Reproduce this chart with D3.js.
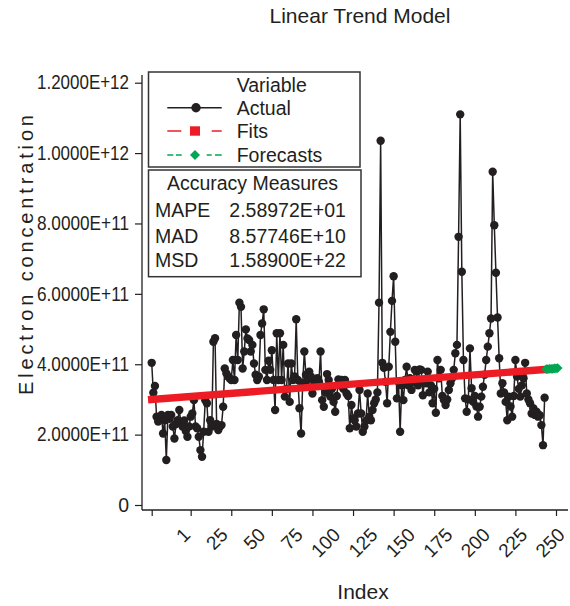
<!DOCTYPE html>
<html>
<head>
<meta charset="utf-8">
<script src="https://cdn.jsdelivr.net/npm/d3@7"></script>
<style>
  body { margin: 0; background: #fff; }
  text { font-family: "Liberation Sans", Arial, sans-serif; fill: #231f20; }
</style>
</head>
<body>
<div id="chart"></div>
<script>
// values are in units of 1E+11
const unit = 1e11;
const actualValues = [
  4.04, 3.19, 3.38, 2.51, 2.37, 2.45, 2.56, 2.03, 2.41, 1.28,
  2.56, 2.45, 2.56, 2.23, 1.89, 2.30, 2.41, 2.70, 2.32, 2.23,
  2.40, 2.10, 1.94, 2.23, 2.51, 2.60, 2.98, 2.23, 2.18, 1.94,
  1.56, 1.37, 2.08, 2.98, 2.89, 2.08, 2.41, 2.23, 4.64, 4.74,
  2.30, 2.13, 2.23, 2.27, 2.79, 3.88, 3.74, 3.65, 3.60, 3.55,
  4.12, 3.55, 4.83, 4.12, 5.75, 5.63, 3.88, 4.36, 4.99, 4.73,
  4.69, 4.36, 4.55, 4.02, 3.70, 3.55, 3.65, 4.83, 5.16, 5.56,
  3.84, 3.55, 4.10, 3.84, 4.40, 3.55, 2.70, 4.88, 3.55, 4.88,
  3.55, 4.55, 3.08, 3.30, 4.02, 2.93, 4.02, 3.55, 3.65, 5.28,
  3.55, 2.75, 2.03, 3.46, 4.36, 3.70, 3.55, 3.79, 3.65, 3.17,
  3.40, 3.55, 3.60, 3.50, 4.36, 2.98, 2.79, 3.20, 3.72, 3.55,
  3.08, 3.30, 2.93, 2.65, 3.10, 3.57, 3.40, 3.55, 3.30, 3.55,
  3.17, 3.10, 2.18, 2.84, 2.46, 2.41, 2.23, 2.60, 3.27, 2.60,
  2.08, 2.23, 2.40, 3.17, 2.51, 2.41, 2.70, 2.89, 3.00, 3.20,
  5.75, 10.35, 4.04, 3.90, 3.50, 2.89, 3.93, 4.92, 5.80, 6.50,
  4.64, 3.03, 3.50, 2.08, 3.40, 2.98, 3.55, 3.93, 3.40, 3.60,
  3.27, 3.50, 3.84, 3.79, 3.40, 3.85, 3.84, 3.12, 3.50, 3.46,
  3.79, 3.20, 3.40, 2.89, 3.30, 2.62, 4.12, 3.60, 3.84, 3.10,
  2.98, 2.84, 3.00, 3.27, 3.46, 3.60, 3.84, 4.31, 4.55, 7.62,
  11.10, 6.63, 4.12, 3.03, 2.65, 3.00, 4.45, 3.32, 2.93, 3.10,
  2.80, 2.51, 2.79, 3.08, 3.36, 3.70, 4.12, 4.50, 4.88, 5.30,
  9.47, 7.95, 6.60, 5.33, 4.17, 3.17, 3.46, 3.20, 2.93, 2.41,
  3.08, 2.80, 2.51, 3.10, 4.12, 3.65, 3.30, 3.08, 3.40, 3.60,
  4.04, 3.17, 3.00, 2.89, 2.60, 2.75, 2.56, 2.65, 2.51, 2.55,
  2.27, 1.70, 3.05
];
// linear trend fits, read at the first and last index
const fitIndex = [1, 243];
const fitValues = [3.00, 3.85];
const forecastValues = [3.86, 3.86, 3.87, 3.87, 3.87, 3.88, 3.88, 3.89];

const yTicks = [0, 2e11, 4e11, 6e11, 8e11, 1e12, 1.2e12];
const xTicks = [1, 25, 50, 75, 100, 125, 150, 175, 200, 225, 250];
const legendNames = ["Actual", "Fits", "Forecasts"];
const measureNames = ["MAPE", "MAD", "MSD"];
const measureValues = ["2.58972E+01", "8.57746E+10", "1.58900E+22"];

const ink = "#231f20", red = "#ed1c24", green = "#00a651";
const width = 570, height = 606;

const svg = d3.select("#chart").append("svg")
    .attr("width", width)
    .attr("height", height);

let x = d3.scaleLinear().domain([1, 250]).range([151.7, 556]);
let y = d3.scaleLinear().domain([0, 1.2e12]).range([505, 82.7]);
// tick labels under the index axis sit on their own even spacing
let xLabel = d3.scalePoint().domain(xTicks).range([191.6, 566]);

// title
svg.append("text")
    .attr("x", 360).attr("y", 23)
    .attr("text-anchor", "middle")
    .style("font-size", "21px")
    .text("Linear Trend Model");

// y axis
let yAxis = svg.append("g")
    .attr("transform", "translate(142,0)")
    .call(d3.axisLeft(y).tickValues(yTicks).tickSize(7).tickPadding(6)
        .tickFormat(d => d === 0 ? "0" : d.toExponential(4).toUpperCase()));
yAxis.attr("font-size", null).attr("font-family", null);
yAxis.select(".domain").remove();
yAxis.selectAll(".tick line").attr("stroke", ink).attr("stroke-width", 1.2);
yAxis.selectAll(".tick text")
    .attr("fill", ink)
    .attr("font-size", 19.5)
    .style("font-size", "19.5px")
    .each(function(d) {
        // labels in the picture are narrower than the plain font
        if (d !== 0) {
            d3.select(this).attr("textLength", 92).attr("lengthAdjust", "spacingAndGlyphs");
        }
    });

svg.append("line")
    .attr("x1", 142).attr("x2", 142)
    .attr("y1", 75).attr("y2", 510)
    .attr("stroke", ink).attr("stroke-width", 1.3);

// x axis
let xAxis = svg.append("g")
    .attr("transform", "translate(0,510)")
    .call(d3.axisBottom(x).tickValues(xTicks).tickSize(6).tickFormat(""));
xAxis.select(".domain").remove();
xAxis.selectAll(".tick line").attr("stroke", ink).attr("stroke-width", 1.2);

svg.append("line")
    .attr("x1", 142).attr("x2", 568)
    .attr("y1", 510).attr("y2", 510)
    .attr("stroke", ink).attr("stroke-width", 1.3);

svg.append("g").selectAll("text")
    .data(xTicks)
    .enter().append("text")
    .attr("text-anchor", "end")
    .attr("transform", d => "translate(" + xLabel(d) + ",536) rotate(-45)")
    .style("font-size", "19px")
    .text(d => d);

// axis titles
svg.append("text")
    .attr("x", 363).attr("y", 599)
    .attr("text-anchor", "middle")
    .style("font-size", "21px")
    .text("Index");

svg.append("text")
    .attr("transform", "translate(33,255) rotate(-90)")
    .attr("text-anchor", "middle")
    .attr("textLength", 280)
    .attr("lengthAdjust", "spacing")
    .style("font-size", "20px")
    .text("Electron concentration");

// actual series
let line = d3.line()
    .x((d, i) => x(i + 1))
    .y(d => y(d * unit));

svg.append("path")
    .datum(actualValues)
    .attr("d", line)
    .attr("fill", "none")
    .attr("stroke", ink)
    .attr("stroke-width", 1.5);

svg.append("g").selectAll("circle")
    .data(actualValues)
    .enter().append("circle")
    .attr("cx", (d, i) => x(i + 1))
    .attr("cy", d => y(d * unit))
    .attr("r", 4.2)
    .attr("fill", ink);

// fits
svg.append("line")
    .attr("x1", x(fitIndex[0])).attr("y1", y(fitValues[0] * unit))
    .attr("x2", x(fitIndex[1])).attr("y2", y(fitValues[1] * unit))
    .attr("stroke", red)
    .attr("stroke-width", 7.4)
    .attr("stroke-linecap", "square");

// forecasts
let firstForecast = actualValues.length + 1;
svg.append("path")
    .datum(forecastValues)
    .attr("d", d3.line().x((d, i) => x(firstForecast + i)).y(d => y(d * unit)))
    .attr("fill", "none")
    .attr("stroke", green)
    .attr("stroke-width", 1.5)
    .attr("stroke-dasharray", "4,2");

let diamond = d3.symbol().type(d3.symbolSquare).size(48);
svg.append("g").selectAll("path")
    .data(forecastValues)
    .enter().append("path")
    .attr("d", diamond)
    .attr("transform", (d, i) => "translate(" + x(firstForecast + i) + "," + y(d * unit) + ") rotate(45)")
    .attr("fill", green);

// legend: variables
let legend = svg.append("g");
legend.append("rect")
    .attr("x", 148.5).attr("y", 72)
    .attr("width", 211.5).attr("height", 95)
    .attr("fill", "#fff")
    .attr("stroke", "#333").attr("stroke-width", 1.5);

legend.append("text")
    .attr("x", 236.7).attr("y", 91.7)
    .style("font-size", "19.5px")
    .text("Variable");

let rowY = [107.7, 131, 155];
let styles = [
    { color: ink, dash: null },
    { color: red, dash: "14,30.4" },
    { color: green, dash: "6,2.7,5.7,25,5,3.3,6.7" }
];
legendNames.forEach((name, i) => {
    legend.append("line")
        .attr("x1", 167.3).attr("x2", 221.7)
        .attr("y1", rowY[i]).attr("y2", rowY[i])
        .attr("stroke", styles[i].color)
        .attr("stroke-width", 1.5)
        .attr("stroke-dasharray", styles[i].dash);
    legend.append("text")
        .attr("x", 236.7).attr("y", rowY[i] + 7.3)
        .style("font-size", "19.5px")
        .text(name);
});
legend.append("circle").attr("cx", 196).attr("cy", rowY[0]).attr("r", 4.7).attr("fill", ink);
legend.append("rect").attr("x", 190).attr("y", rowY[1] - 4.7).attr("width", 10).attr("height", 9.4).attr("fill", red);
legend.append("path")
    .attr("d", d3.symbol().type(d3.symbolSquare).size(50))
    .attr("transform", "translate(195," + rowY[2] + ") rotate(45)")
    .attr("fill", green);

// legend: accuracy measures
legend.append("rect")
    .attr("x", 148.5).attr("y", 170)
    .attr("width", 212.5).attr("height", 106.7)
    .attr("fill", "#fff")
    .attr("stroke", "#333").attr("stroke-width", 1.5);

legend.append("text")
    .attr("x", 252.5).attr("y", 189.5)
    .attr("text-anchor", "middle")
    .style("font-size", "19.5px")
    .text("Accuracy Measures");

let measureY = [216.7, 242.7, 266.7];
measureNames.forEach((name, i) => {
    legend.append("text")
        .attr("x", 155).attr("y", measureY[i])
        .style("font-size", "19.5px")
        .text(name);
    legend.append("text")
        .attr("x", 229.3).attr("y", measureY[i])
        .style("font-size", "19.5px")
        .text(measureValues[i]);
});
</script>
</body>
</html>
